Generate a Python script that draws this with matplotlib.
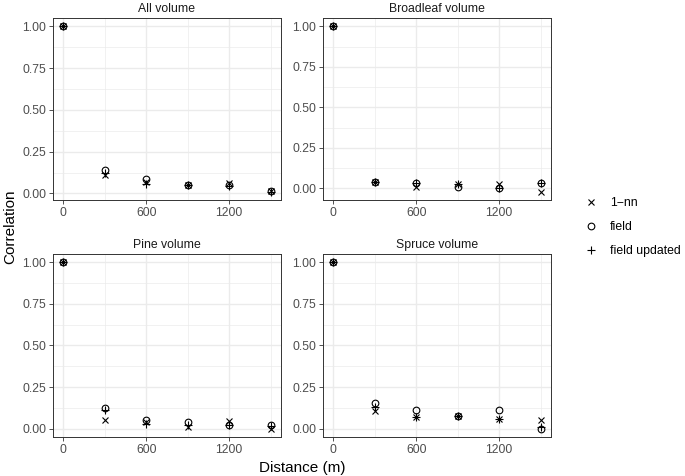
import numpy as np
import matplotlib.pyplot as plt
from matplotlib.lines import Line2D

plt.rcParams['font.family'] = ['Liberation Sans', 'DejaVu Sans']

# -----------------------------------------
# DATA
# -----------------------------------------
distance = [0, 300, 600, 900, 1200, 1500]
panels = ["All volume", "Broadleaf volume", "Pine volume", "Spruce volume"]

nn1 = {
    "All volume":       [1.0, 0.11, 0.07, 0.05, 0.065, 0.015],
    "Broadleaf volume": [1.0, 0.04, 0.01, 0.025, 0.025, -0.02],
    "Pine volume":      [1.0, 0.05, 0.04, 0.01, 0.045, 0.0],
    "Spruce volume":    [1.0, 0.105, 0.07, 0.075, 0.06, 0.05],
}
field = {
    "All volume":       [1.0, 0.14, 0.085, 0.05, 0.05, 0.015],
    "Broadleaf volume": [1.0, 0.04, 0.035, 0.008, 0.0, 0.035],
    "Pine volume":      [1.0, 0.125, 0.05, 0.04, 0.025, 0.02],
    "Spruce volume":    [1.0, 0.155, 0.11, 0.075, 0.11, 0.0],
}
field_updated = {
    "All volume":       [1.0, 0.125, 0.055, 0.05, 0.045, 0.01],
    "Broadleaf volume": [1.0, 0.04, 0.035, 0.025, 0.005, 0.035],
    "Pine volume":      [1.0, 0.11, 0.03, 0.02, 0.02, 0.015],
    "Spruce volume":    [1.0, 0.13, 0.07, 0.075, 0.06, 0.01],
}

x_ticks = [0, 600, 1200]
x_minor = [300, 900, 1500]
y_ticks = [0.0, 0.25, 0.5, 0.75, 1.0]
y_minor = [0.125, 0.375, 0.625, 0.875]

# -----------------------------------------
# FIGURE
# -----------------------------------------
W, H = 685, 476
fig = plt.figure(figsize=(W / 100, H / 100), dpi=100)

# panel boxes in pixels: (left, top, right, bottom)
boxes = [(53, 18, 281, 200), (323, 18, 551, 200),
         (53, 254, 281, 437), (323, 254, 551, 437)]

ms = 4.8
mw = 0.8
for name, (l, t, r, b) in zip(panels, boxes):
    ax = fig.add_axes([l / W, 1 - b / H, (r - l) / W, (b - t) / H])
    allv = nn1[name] + field[name] + field_updated[name]
    lo, hi = min(allv), max(allv)
    pad = 0.05 * (hi - lo)
    ax.set_ylim(lo - pad, hi + pad)
    ax.set_xlim(-75, 1575)

    ax.set_xticks(x_ticks)
    ax.set_xticks(x_minor, minor=True)
    ax.set_yticks(y_ticks)
    ax.set_yticks(y_minor, minor=True)
    ax.set_yticklabels(["0.00", "0.25", "0.50", "0.75", "1.00"])
    ax.grid(True, which="major", color="#ebebeb", linewidth=1.0)
    ax.grid(True, which="minor", color="#ebebeb", linewidth=0.5)
    ax.set_axisbelow(True)
    ax.tick_params(which="major", length=3, width=0.6, color="#333333",
                   labelsize=8.8, labelcolor="#4d4d4d", pad=2)
    ax.tick_params(which="minor", length=0)
    for s in ax.spines.values():
        s.set_color("#333333")
        s.set_linewidth(0.7)

    ax.plot(distance, nn1[name], "x", color="black", ms=ms, mew=mw, ls="none")
    ax.plot(distance, field[name], "o", mfc="none", mec="black", ms=ms, mew=mw, ls="none")
    ax.plot(distance, field_updated[name], "+", color="black", ms=ms + 1.2, mew=mw, ls="none")
    ax.set_title(name, fontsize=8.8, color="#1a1a1a", pad=4)

fig.text(302 / W, 1 - 468 / H, "Distance (m)", ha="center", va="center", fontsize=11)
fig.text(10 / W, 1 - 227 / H, "Correlation", ha="center", va="center",
         rotation=90, fontsize=11)

handles = [
    Line2D([], [], marker="x", color="black", ls="none", ms=ms, mew=mw),
    Line2D([], [], marker="o", mfc="none", mec="black", ls="none", ms=ms, mew=mw),
    Line2D([], [], marker="+", color="black", ls="none", ms=ms + 1.2, mew=mw),
]
fig.legend(handles, ["1\u2212nn", "field", "field updated"],
           loc="center left", bbox_to_anchor=(578 / W, 1 - 227 / H),
           frameon=False, fontsize=8.8, handlelength=1.2, handletextpad=0.9,
           labelspacing=1.0, borderpad=0)

fig.savefig("out.png", dpi=100)
